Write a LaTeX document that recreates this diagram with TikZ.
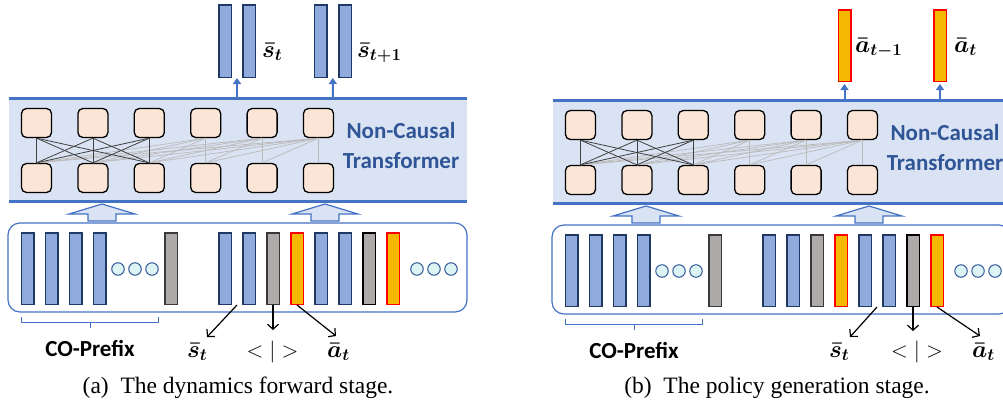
\RequirePackage{fix-cm}
\documentclass[tikz,border=0pt]{standalone}
\usepackage{amsmath,bm}
\usepackage{fontspec}
\setmainfont{Liberation Serif}
\newfontfamily\calibri{Carlito}
\usetikzlibrary{arrows.meta,calc}

\definecolor{bandfill}{HTML}{DAE3F3}
\definecolor{bandline}{HTML}{4472C4}
\definecolor{tfblue}{HTML}{2F5597}
\definecolor{unitfill}{HTML}{FBE5D6}
\definecolor{barblue}{HTML}{8FAADC}
\definecolor{barline}{HTML}{203864}
\definecolor{barsilver}{HTML}{AEAAAA}
\definecolor{grayline}{HTML}{3A3838}
\definecolor{actgold}{HTML}{F4B800}
\definecolor{dotfill}{HTML}{DDF4F4}
\definecolor{dotline}{HTML}{2F5597}
\definecolor{attdark}{HTML}{404040}
\definecolor{attlite}{HTML}{BABABA}

\tikzset{
  unit/.style={draw=black, line width=1.3pt, fill=unitfill, rounded corners=5pt,
    minimum width=30pt, minimum height=29pt, inner sep=0pt},
  sbar/.style={draw=barline, fill=barblue, line width=1.5pt,
    minimum width=12.5pt, minimum height=71.5pt, inner sep=0pt},
  gbar/.style={sbar, draw=grayline, fill=barsilver},
  kbar/.style={gbar, draw=black},
  abar/.style={sbar, draw=red, fill=actgold},
  dot/.style={circle, draw=dotline, fill=dotfill, line width=1pt,
    minimum size=12.5pt, inner sep=0pt},
  attn/.style={line width=0.8pt, draw=attdark},
  attnlite/.style={line width=0.7pt, draw=attlite},
  outarrow/.style={draw=bandline, line width=2pt, -{Triangle[width=8pt,length=6pt]}},
  tokarrow/.style={draw=black, line width=1.2pt, -{Straight Barb[length=5pt,width=11pt]}},
  lbl/.style={font=\calibri\bfseries\fontsize{23}{23}\selectfont, text=tfblue,
    anchor=base, inner sep=0pt},
  mathlbl/.style={font=\fontsize{24}{24}\selectfont\boldmath, anchor=base west, inner sep=0pt},
  caption/.style={font=\fontsize{23.5}{24}\selectfont, anchor=base, inner sep=0pt},
  blockarrow/.style={draw=bandline, fill=bandfill, line width=1.2pt, line join=miter},
}

% transformer band, token row and prefix bracket shared by both stages
\newcommand\stagecore{%
  \fill[bandfill] (9,98) rectangle (467,201);
  \draw[bandline, line width=3pt] (9,98) -- (467,98) (9,201) -- (467,201);
  \foreach \i in {1,...,6} {
    \node[unit] (t\i) at ({36.5+56.4*(\i-1)},123) {};
    \node[unit] (b\i) at ({36.5+56.4*(\i-1)},178) {};
  }
  \foreach \i in {4,5,6} {
    \foreach \j in {1,...,\i} \draw[attnlite] (t\i.south) -- (b\j.north);
  }
  \foreach \i in {1,2,3} {
    \foreach \j in {1,2,3} \draw[attn] (t\i.south) -- (b\j.north);
  }
  \node[lbl] (nc) at (401,138) {Non-Causal};
  \node[lbl] (tf) at (401,168) {Transformer};
  \foreach \c in {102,325}
    \draw[blockarrow] (\c,204) -- ({\c+33},214) -- ({\c+14},214) -- ({\c+14},221)
      -- ({\c-14},221) -- ({\c-14},214) -- ({\c-33},214) -- cycle;
  \draw[bandline, line width=1.2pt, rounded corners=12pt] (8,223) rectangle (467,312);
  \node[sbar] (p1) at (27.5,268.5) {};
  \node[sbar] (p2) at (51.5,268.5) {};
  \node[sbar] (p3) at (75.5,268.5) {};
  \node[sbar] (p4) at (99.5,268.5) {};
  \node[dot] (d1) at (118,269) {};
  \node[dot] (d2) at (135,269) {};
  \node[dot] (d3) at (152,269) {};
  \node[gbar] (g0) at (171,268.5) {};
  \node[sbar] (q1) at (225,268.5) {};
  \node[sbar] (q2) at (249,268.5) {};
  \node[gbar] (g1) at (273,268.5) {};
  \node[abar] (y1) at (297,268.5) {};
  \node[sbar] (q3) at (321,268.5) {};
  \node[sbar] (q4) at (345,268.5) {};
  \node[kbar] (g2) at (369,268.5) {};
  \node[abar] (y2) at (393,268.5) {};
  \node[dot] (d4) at (417,269) {};
  \node[dot] (d5) at (434,269) {};
  \node[dot] (d6) at (451,269) {};
  \draw[bandline, line width=1pt] (21,317) -- (21,322) -- (158,322) -- (158,317)
    (90,322) -- (90,328);
  \node[lbl, text=black] (co) at (90,356) {CO-Prefix};
}

\begin{document}
\begin{tikzpicture}[x=1pt, y=-1pt]
\useasboundingbox (0,0) rectangle (1003,402);
\clip (0,0) rectangle (1003,402);

% (a) dynamics forward stage
\begin{scope}[name prefix=a-]
  \stagecore
  \node[sbar, minimum height=72.5pt] (o1) at (225,41) {};
  \node[sbar, minimum height=72.5pt] (o2) at (249,41) {};
  \node[sbar, minimum height=72.5pt] (o3) at (320.5,41) {};
  \node[sbar, minimum height=72.5pt] (o4) at (345,41) {};
  \coordinate (e1) at (237,97);
  \coordinate (e2) at (333,97);
  \draw[outarrow] (e1) -- ($(o1.south)!.5!(o2.south)$);
  \draw[outarrow] (e2) -- ($(o3.south)!.5!(o4.south)$);
  \node[mathlbl] (ls1) at (262,57) {$\bm{\bar{s}_{t}}$};
  \node[mathlbl] (ls2) at (357,57) {$\bm{\bar{s}_{t+1}}$};
  \coordinate (m1) at ($(q1.south)!.5!(q2.south)$);
  \coordinate (k1) at (207,337);
  \coordinate (k2) at (273,330);
  \coordinate (k3) at (336,336);
  \draw[tokarrow] (m1) -- (k1);
  \draw[tokarrow] (g1.south) -- (k2);
  \draw[tokarrow] (y1.south) -- (k3);
  \node[mathlbl] (lb1) at (187,357) {$\bm{\bar{s}_{t}}$};
  \node[mathlbl, font=\fontsize{22}{22}\selectfont, anchor=base] (lb2) at (272.5,357) {$<|>$};
  \node[mathlbl] (lb3) at (327,357) {$\bm{\bar{a}_{t}}$};
\end{scope}
\node[caption] (capa) at (238,393) {(a)\ \ The dynamics forward stage.};

% (b) policy generation stage
\begin{scope}[shift={(544,2)}, name prefix=b-]
  \stagecore
  \node[abar, minimum height=71.5pt] (o1) at (300.5,43.5) {};
  \node[abar, minimum height=71.5pt] (o2) at (396,43.5) {};
  \coordinate (e1) at (300.5,97);
  \coordinate (e2) at (396,97);
  \draw[outarrow] (e1) -- ([yshift=-2pt]o1.south);
  \draw[outarrow] (e2) -- ([yshift=-2pt]o2.south);
  \node[mathlbl] (ls1) at (311,50) {$\bm{\bar{a}_{t-1}}$};
  \node[mathlbl] (ls2) at (410,50) {$\bm{\bar{a}_{t}}$};
  \coordinate (m1) at ($(q3.south)!.5!(q4.south)$);
  \coordinate (k1) at (306,335);
  \coordinate (k2) at (369,329);
  \coordinate (k3) at (436,334);
  \draw[tokarrow] (m1) -- (k1);
  \draw[tokarrow] (g2.south) -- (k2);
  \draw[tokarrow] (y2.south) -- (k3);
\end{scope}
\node[mathlbl] (blb1) at (829,357) {$\bm{\bar{s}_{t}}$};
\node[mathlbl, font=\fontsize{22}{22}\selectfont, anchor=base] (blb2) at (917,357) {$<|>$};
\node[mathlbl] (blb3) at (972,357) {$\bm{\bar{a}_{t}}$};
\node[caption] (capb) at (777,393) {(b)\ \ The policy generation stage.};
\end{tikzpicture}
\end{document}
